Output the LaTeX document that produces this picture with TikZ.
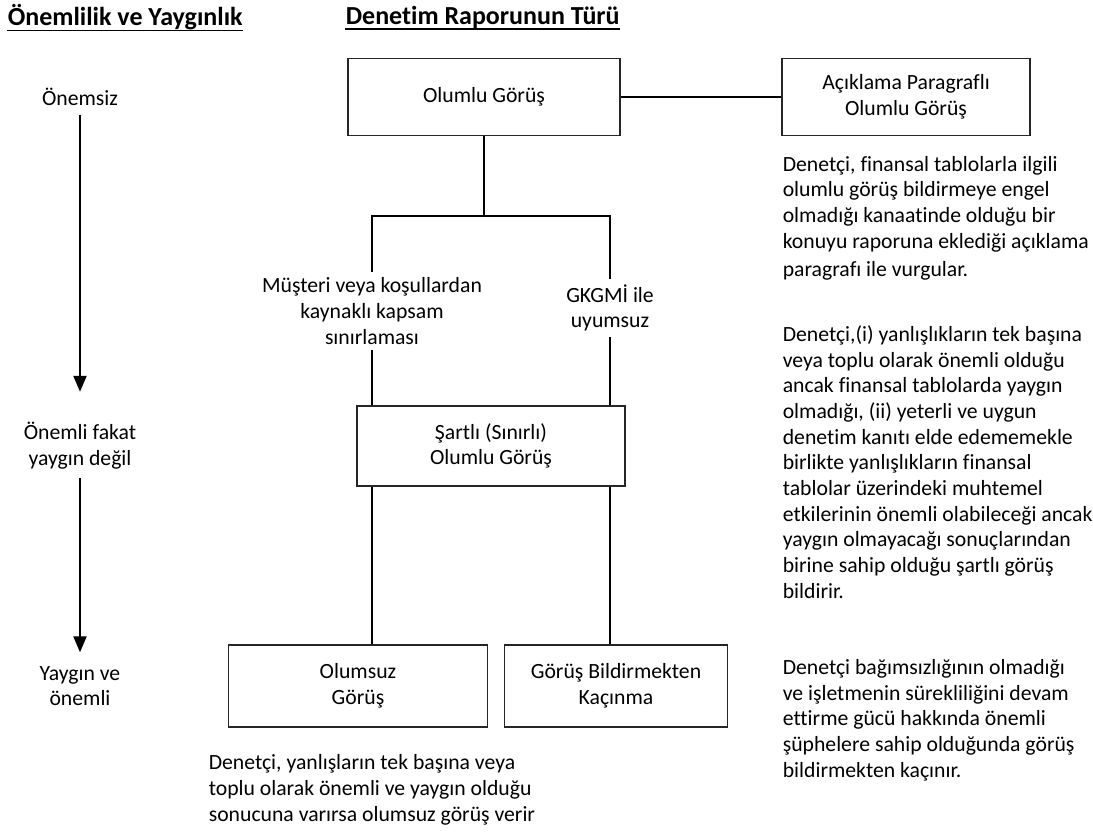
\documentclass[tikz,border=0pt]{standalone}
\usepackage{fontspec}
\setmainfont{Carlito}[Ligatures=NoCommon]
\usetikzlibrary{arrows.meta,positioning,calc}

\tikzset{
  box/.style={draw=black!85, line width=1.2pt, fill=white, align=center, inner sep=0pt},
  lbl/.style={align=center, inner sep=5pt},
  side/.style={align=center, inner sep=8pt},
  note/.style={align=left, anchor=west, inner sep=0pt},
  head/.style={anchor=west, inner sep=0pt, font=\fontsize{26}{30}\selectfont\bfseries},
  arr/.style={line width=2.2pt, -{Triangle[length=16pt,width=13pt]}}
}

\begin{document}
\begin{tikzpicture}[x=1pt, y=-1pt, line width=1.6pt, font=\fontsize{21.7}{25.7}\selectfont]

			\useasboundingbox (0,0) rectangle (1093,833);

			% basliklar
			\node[head] (baslik1) at (7,17) {Önemlilik ve Yaygınlık};
			\node[head] (baslik2) at (345,17) {Denetim Raporunun Türü};
			\draw[line width=1.5pt] (baslik1.south west) -- (baslik1.south east);
			\draw[line width=1.5pt] (baslik2.south west) -- (baslik2.south east);

			% rapor kutulari
			\node[box, minimum width=272, minimum height=77] (olumlu) at (484,97) {Olumlu Görüş};
			\node[box, minimum width=248, minimum height=77] (aciklama) at (906,97) {Açıklama Paragraflı\\Olumlu Görüş};
			\node[box, minimum width=268, minimum height=80] (sartli) at (491,446) {Şartlı (Sınırlı)\\Olumlu Görüş};
			\node[box, minimum width=259, minimum height=82] (olumsuz) at (358,686) {Olumsuz\\Görüş};
			\node[box, minimum width=223, minimum height=82] (kacinma) at (616,686) {Görüş Bildirmekten\\Kaçınma};

			\node[lbl] (kapsam) at (372,311) {Müşteri veya koşullardan\\kaynaklı kapsam\\sınırlaması};
			\node[lbl] (gkgmi) at (610,308) {GKGMİ ile\\uyumsuz};
			\coordinate (catal) at (484,216);

			\draw (olumlu.east) -- (aciklama.west);
			\draw (olumlu.south) -- (catal);
			\draw (kapsam.north) -- (kapsam.north |- catal) -- (gkgmi.north |- catal) -- (gkgmi.north);
			\draw (kapsam.south) -- (kapsam.south |- sartli.north);
			\draw (gkgmi.south) -- (gkgmi.south |- sartli.north);
			\draw (kapsam.south |- sartli.south) -- (kapsam.south |- olumsuz.north);
			\draw (gkgmi.south |- sartli.south) -- (gkgmi.south |- kacinma.north);

			% onemlilik ekseni
			\node[side] (onemsiz) at (80,97) {Önemsiz};
			\node[side] (orta) at (80,446) {Önemli fakat\\yaygın değil};
			\node[side] (yaygin) at (80,686) {Yaygın ve\\önemli};
			\draw[arr, shorten >=22pt] (onemsiz.south) -- (orta.north);
			\draw[arr, shorten >=5pt] (orta.south) -- (yaygin.north);

			% aciklamalar
			\node[note] (not1) at (782,218) {Denetçi, finansal tablolarla ilgili\\olumlu görüş bildirmeye engel\\olmadığı kanaatinde olduğu bir\\konuyu raporuna eklediği açıklama\\[2pt]paragrafı ile vurgular.};
			\node[note] (not2) at (782,462) {Denetçi,(i) yanlışlıkların tek başına\\veya toplu olarak önemli olduğu\\ancak finansal tablolarda yaygın\\olmadığı, (ii) yeterli ve uygun\\denetim kanıtı elde edememekle\\birlikte yanlışlıkların finansal\\tablolar üzerindeki muhtemel\\etkilerinin önemli olabileceği ancak\\yaygın olmayacağı sonuçlarından\\birine sahip olduğu şartlı görüş\\bildirir.};
			\node[note] (not3) at (782,720) {Denetçi bağımsızlığının olmadığı\\ve işletmenin sürekliliğini devam\\ettirme gücü hakkında önemli\\şüphelere sahip olduğunda görüş\\bildirmekten kaçınır.};
			\node[note] (not4) at (208,790) {Denetçi, yanlışların tek başına veya\\toplu olarak önemli ve yaygın olduğu\\sonucuna varırsa olumsuz görüş verir};

\end{tikzpicture}
\end{document}
